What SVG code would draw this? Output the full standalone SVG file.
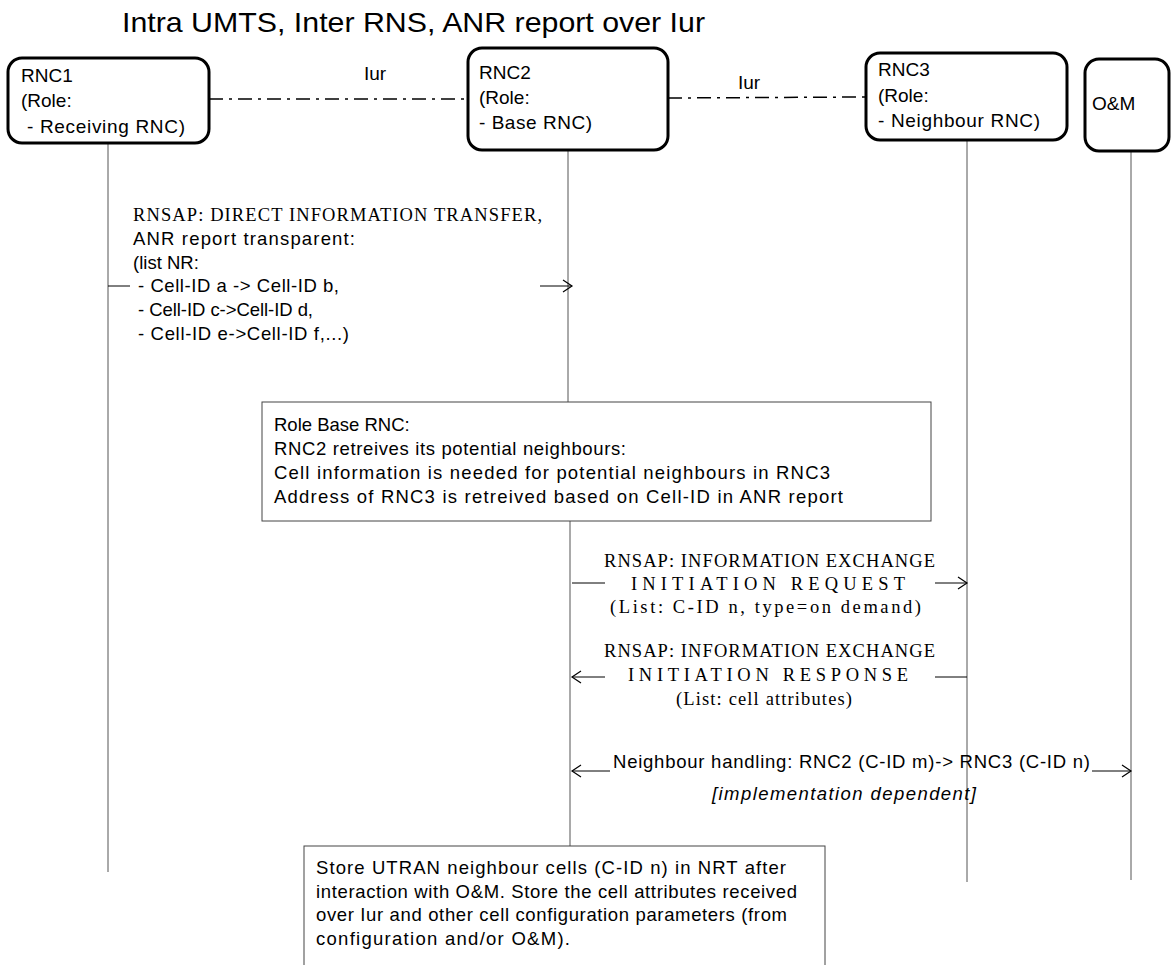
<svg xmlns="http://www.w3.org/2000/svg" width="1171" height="965" viewBox="0 0 1171 965">
<defs>
<marker id="arr" markerWidth="12" markerHeight="14" refX="10" refY="7" orient="auto" markerUnits="userSpaceOnUse">
<path d="M1,1 L10,7 L1,13" fill="none" stroke="#000" stroke-width="1.2"/>
</marker>
<style>
.sans{font-family:"Liberation Sans",Arial,sans-serif;font-size:18.5px;fill:#000}
.ent-t{font-family:"Liberation Sans",Arial,sans-serif;font-size:19px;fill:#000}
.serif{font-family:"Liberation Serif","Times New Roman",serif;font-size:18.5px;fill:#000}
.ent{fill:#fff;stroke:#000;stroke-width:3}
.note{fill:#fff;stroke:#444;stroke-width:1}
.life{stroke:#555;stroke-width:1;fill:none}
.msg{stroke:#000;stroke-width:1;fill:none}
.iur{stroke:#000;stroke-width:1.5;fill:none;stroke-dasharray:14 6 3 6}
</style>
</defs>
<rect width="1171" height="965" fill="#fff"/>
<text x="122" y="32" textLength="583" lengthAdjust="spacingAndGlyphs" style="font-family:'Liberation Sans',Arial,sans-serif;font-size:28px">Intra UMTS, Inter RNS, ANR report over Iur</text>

<g id="connectors">
<line class="life" x1="108" y1="143" x2="108" y2="872"/>
<line class="life" x1="568" y1="150" x2="568" y2="402"/>
<line class="life" x1="570" y1="521" x2="570" y2="846"/>
<line class="life" x1="967" y1="140" x2="967" y2="882"/>
<line class="life" x1="1131" y1="151" x2="1131" y2="880"/>
<line class="iur" x1="209" y1="99" x2="467" y2="99"/>
<line class="iur" x1="668" y1="98" x2="866" y2="97"/>
<text class="ent-t" x="364" y="80">Iur</text>
<text class="ent-t" x="738" y="89">Iur</text>
<line class="msg" x1="108" y1="286" x2="130" y2="286"/>
<line class="msg" x1="540" y1="286" x2="572" y2="286" marker-end="url(#arr)"/>
<line class="msg" x1="572" y1="583" x2="605" y2="583"/>
<line class="msg" x1="935" y1="583" x2="967" y2="583" marker-end="url(#arr)"/>
<line class="msg" x1="605" y1="677" x2="572" y2="677" marker-end="url(#arr)"/>
<line class="msg" x1="935" y1="677" x2="967" y2="677"/>
<line class="msg" x1="610" y1="771" x2="572" y2="771" marker-end="url(#arr)"/>
<line class="msg" x1="1092" y1="771" x2="1131" y2="771" marker-end="url(#arr)"/>
</g>

<g id="rnc1">
<rect class="ent" x="8" y="58" width="201" height="85" rx="14"/>
<text class="ent-t" x="21" y="82">RNC1</text>
<text class="ent-t" x="21" y="107">(Role:</text>
<text class="ent-t" x="27" y="133" textLength="158">- Receiving RNC)</text>
</g>
<g id="rnc2">
<rect class="ent" x="468" y="48" width="200" height="102" rx="14"/>
<text class="ent-t" x="479" y="79">RNC2</text>
<text class="ent-t" x="479" y="104">(Role:</text>
<text class="ent-t" x="479" y="129" textLength="113">- Base RNC)</text>
</g>
<g id="rnc3">
<rect class="ent" x="866" y="53" width="201" height="87" rx="14"/>
<text class="ent-t" x="878" y="76">RNC3</text>
<text class="ent-t" x="878" y="102">(Role:</text>
<text class="ent-t" x="878" y="127" textLength="162">- Neighbour RNC)</text>
</g>
<g id="om">
<rect class="ent" x="1085" y="59" width="84" height="92" rx="14"/>
<text class="ent-t" x="1092" y="110">O&amp;M</text>
</g>

<g id="msg1">
<text class="serif" x="133" y="221" textLength="409">RNSAP: DIRECT INFORMATION TRANSFER,</text>
<text class="sans" x="133" y="245" textLength="222">ANR report transparent:</text>
<text class="sans" x="133" y="269">(list NR:</text>
<text class="sans" x="138" y="292" textLength="201">- Cell-ID a -&gt; Cell-ID b,</text>
<text class="sans" x="138" y="316" textLength="175">- Cell-ID c-&gt;Cell-ID d,</text>
<text class="sans" x="138" y="340" textLength="211">- Cell-ID e-&gt;Cell-ID f,...)</text>
</g>

<g id="note1">
<rect class="note" x="262" y="402" width="669" height="119"/>
<text class="sans" x="274" y="431">Role Base RNC:</text>
<text class="sans" x="274" y="455" textLength="352">RNC2 retreives its potential neighbours:</text>
<text class="sans" x="274" y="479" textLength="556">Cell information is needed for potential neighbours in RNC3</text>
<text class="sans" x="274" y="503" textLength="569">Address of RNC3 is retreived based on Cell-ID in ANR report</text>
</g>

<g id="msg2">
<text class="serif" x="604" y="567" textLength="331">RNSAP: INFORMATION EXCHANGE</text>
<text class="serif" x="631" y="590" textLength="274">INITIATION REQUEST</text>
<text class="serif" x="610" y="613" textLength="311">(List: C-ID n, type=on demand)</text>
</g>
<g id="msg3">
<text class="serif" x="604" y="657" textLength="331">RNSAP: INFORMATION EXCHANGE</text>
<text class="serif" x="628" y="681" textLength="280">INITIATION RESPONSE</text>
<text class="serif" x="676" y="705" textLength="176">(List: cell attributes)</text>
</g>
<g id="msg4">
<text class="sans" x="613" y="768" textLength="477">Neighbour handling: RNC2 (C-ID m)-&gt; RNC3 (C-ID n)</text>
<text class="sans" x="712" y="800" textLength="264" font-style="italic">[implementation dependent]</text>
</g>

<g id="note2">
<rect class="note" x="304" y="846" width="521" height="130"/>
<text class="sans" x="316" y="874" textLength="470">Store UTRAN neighbour cells (C-ID n) in NRT after</text>
<text class="sans" x="316" y="898" textLength="481">interaction with O&amp;M. Store the cell attributes received</text>
<text class="sans" x="316" y="921" textLength="471">over Iur and other cell configuration parameters (from</text>
<text class="sans" x="316" y="945" textLength="254">configuration and/or O&amp;M).</text>
</g>
</svg>
